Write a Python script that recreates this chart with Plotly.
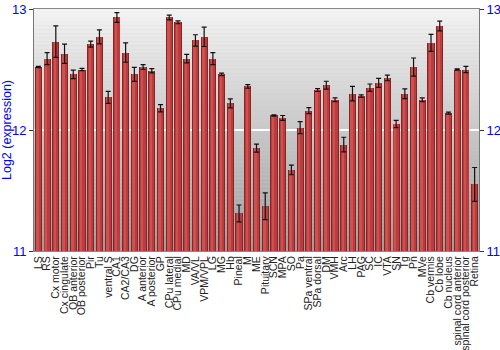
import plotly.graph_objects as go

categories = ["LS", "RS", "Cx motor", "Cx cingulate", "OB anterior", "OB posterior", "Pir", "Tu",
              "ventral S", "CA1", "CA2/CA3", "DG", "A anterior", "A posterior", "GP", "CPu lateral",
              "CPu medial", "MD", "VA/VL", "VPM/VPL", "LG", "MG", "Hb", "Pineal", "M", "ME",
              "Pituitary", "SCN", "MPA", "SO", "Pa", "SPa ventral", "SPa dorsal", "DM", "VMH", "Arc",
              "LH", "PAG", "SC", "IC", "VTA", "SN", "Tg", "Pn", "MVe", "Cb vermis", "Cb lobe",
              "Cb nucleus", "spinal cord anterior", "spinal cord posterior", "Retina"]

values = [12.52, 12.59, 12.73, 12.63, 12.46, 12.50, 12.71, 12.77,
          12.27, 12.93, 12.64, 12.46, 12.52, 12.49, 12.18, 12.93,
          12.89, 12.59, 12.74, 12.77, 12.59, 12.46, 12.22, 11.31, 12.36, 11.85,
          11.37, 12.12, 12.10, 11.67, 12.02, 12.16, 12.33, 12.37, 12.25, 11.88,
          12.30, 12.28, 12.35, 12.39, 12.43, 12.05, 12.30, 12.52, 12.25, 12.72, 12.86,
          12.14, 12.50, 12.50, 11.55]

errors = [0.005, 0.05, 0.13, 0.08, 0.035, 0.01, 0.025, 0.058,
          0.05, 0.04, 0.08, 0.058, 0.02, 0.018, 0.03, 0.02,
          0.012, 0.035, 0.047, 0.08, 0.05, 0.01, 0.037, 0.07, 0.015, 0.033,
          0.11, 0.005, 0.02, 0.04, 0.05, 0.025, 0.012, 0.033, 0.015, 0.06,
          0.06, 0.01, 0.03, 0.037, 0.023, 0.03, 0.04, 0.075, 0.015, 0.07, 0.04,
          0.008, 0.005, 0.025, 0.14]

y_ticks = [11, 12, 13]
y_range = [11, 13]

BASE = 11
heights = [v - BASE for v in values]

fig = go.Figure()

# bar body (dark edges)
fig.add_trace(go.Bar(x=categories, y=heights, base=BASE, width=0.82,
                     marker=dict(color="#8a2424", line=dict(width=0)),
                     hoverinfo="skip", showlegend=False))
# main body
fig.add_trace(go.Bar(x=categories, y=heights, base=BASE, width=0.6,
                     marker=dict(color="#bb3c3c", line=dict(width=0)),
                     hoverinfo="skip", showlegend=False))
# highlight
fig.add_trace(go.Bar(x=categories, y=heights, base=BASE, width=0.28, offset=-0.24,
                     marker=dict(color="#cc5252", line=dict(width=0)),
                     hoverinfo="skip", showlegend=False))
# error bars
fig.add_trace(go.Scatter(x=categories, y=values, mode="markers",
                         marker=dict(size=1, color="rgba(0,0,0,0)"),
                         error_y=dict(type="data", array=errors, visible=True,
                                      color="#111111", thickness=1.2, width=2.5),
                         hoverinfo="skip", showlegend=False))
# right axis companion
fig.add_trace(go.Scatter(x=categories, y=values, yaxis="y2", mode="markers",
                         marker=dict(size=1, color="rgba(0,0,0,0)"),
                         hoverinfo="skip", showlegend=False))

# vertical gradient background
n = 60
shapes = []
top = (242, 242, 242)
bot = (158, 158, 158)
for i in range(n):
    t = i / (n - 1)
    c = tuple(int(round(top[k] + (bot[k] - top[k]) * t)) for k in range(3))
    y1 = 13 - 2 * i / n
    y0 = 13 - 2 * (i + 1) / n
    shapes.append(dict(type="rect", xref="paper", yref="y", x0=0, x1=1, y0=y0, y1=y1,
                       fillcolor="rgb(%d,%d,%d)" % c, line=dict(width=0), layer="below"))

fig.update_layout(
    width=500, height=350,
    margin=dict(l=34, r=21, t=9, b=99),
    paper_bgcolor="white",
    plot_bgcolor="#d0d0d0",
    barmode="overlay",
    bargap=0,
    shapes=shapes,
    font=dict(family="Liberation Sans, Arial, sans-serif"),
    xaxis=dict(type="category", tickangle=-90, tickfont=dict(size=10.5, color="#222222"),
               tickmode="array", tickvals=categories, ticktext=categories,
               showgrid=False, showline=True, linecolor="#888888", mirror=True,
               ticks="", range=[-0.5, len(categories) - 0.5], fixedrange=True,
               automargin=False),
    yaxis=dict(range=y_range, tickvals=y_ticks, ticktext=[str(t) for t in y_ticks],
               tickfont=dict(size=13, color="#0000ff"), ticks="outside", ticklen=4,
               tickcolor="#333333", showgrid=True, gridcolor="#ffffff", gridwidth=1.5,
               showline=True, linecolor="#777777", zeroline=False, automargin=False,
               title=dict(text="Log2 (expression)", font=dict(size=12.5, color="#0000ff"),
                          standoff=2)),
    yaxis2=dict(range=y_range, tickvals=y_ticks, overlaying="y", side="right",
                tickfont=dict(size=13, color="#0000ff"), ticks="outside", ticklen=4,
                tickcolor="#333333", showgrid=False, showline=True, linecolor="#777777",
                zeroline=False, automargin=False),
)

fig.write_html("out.html")
